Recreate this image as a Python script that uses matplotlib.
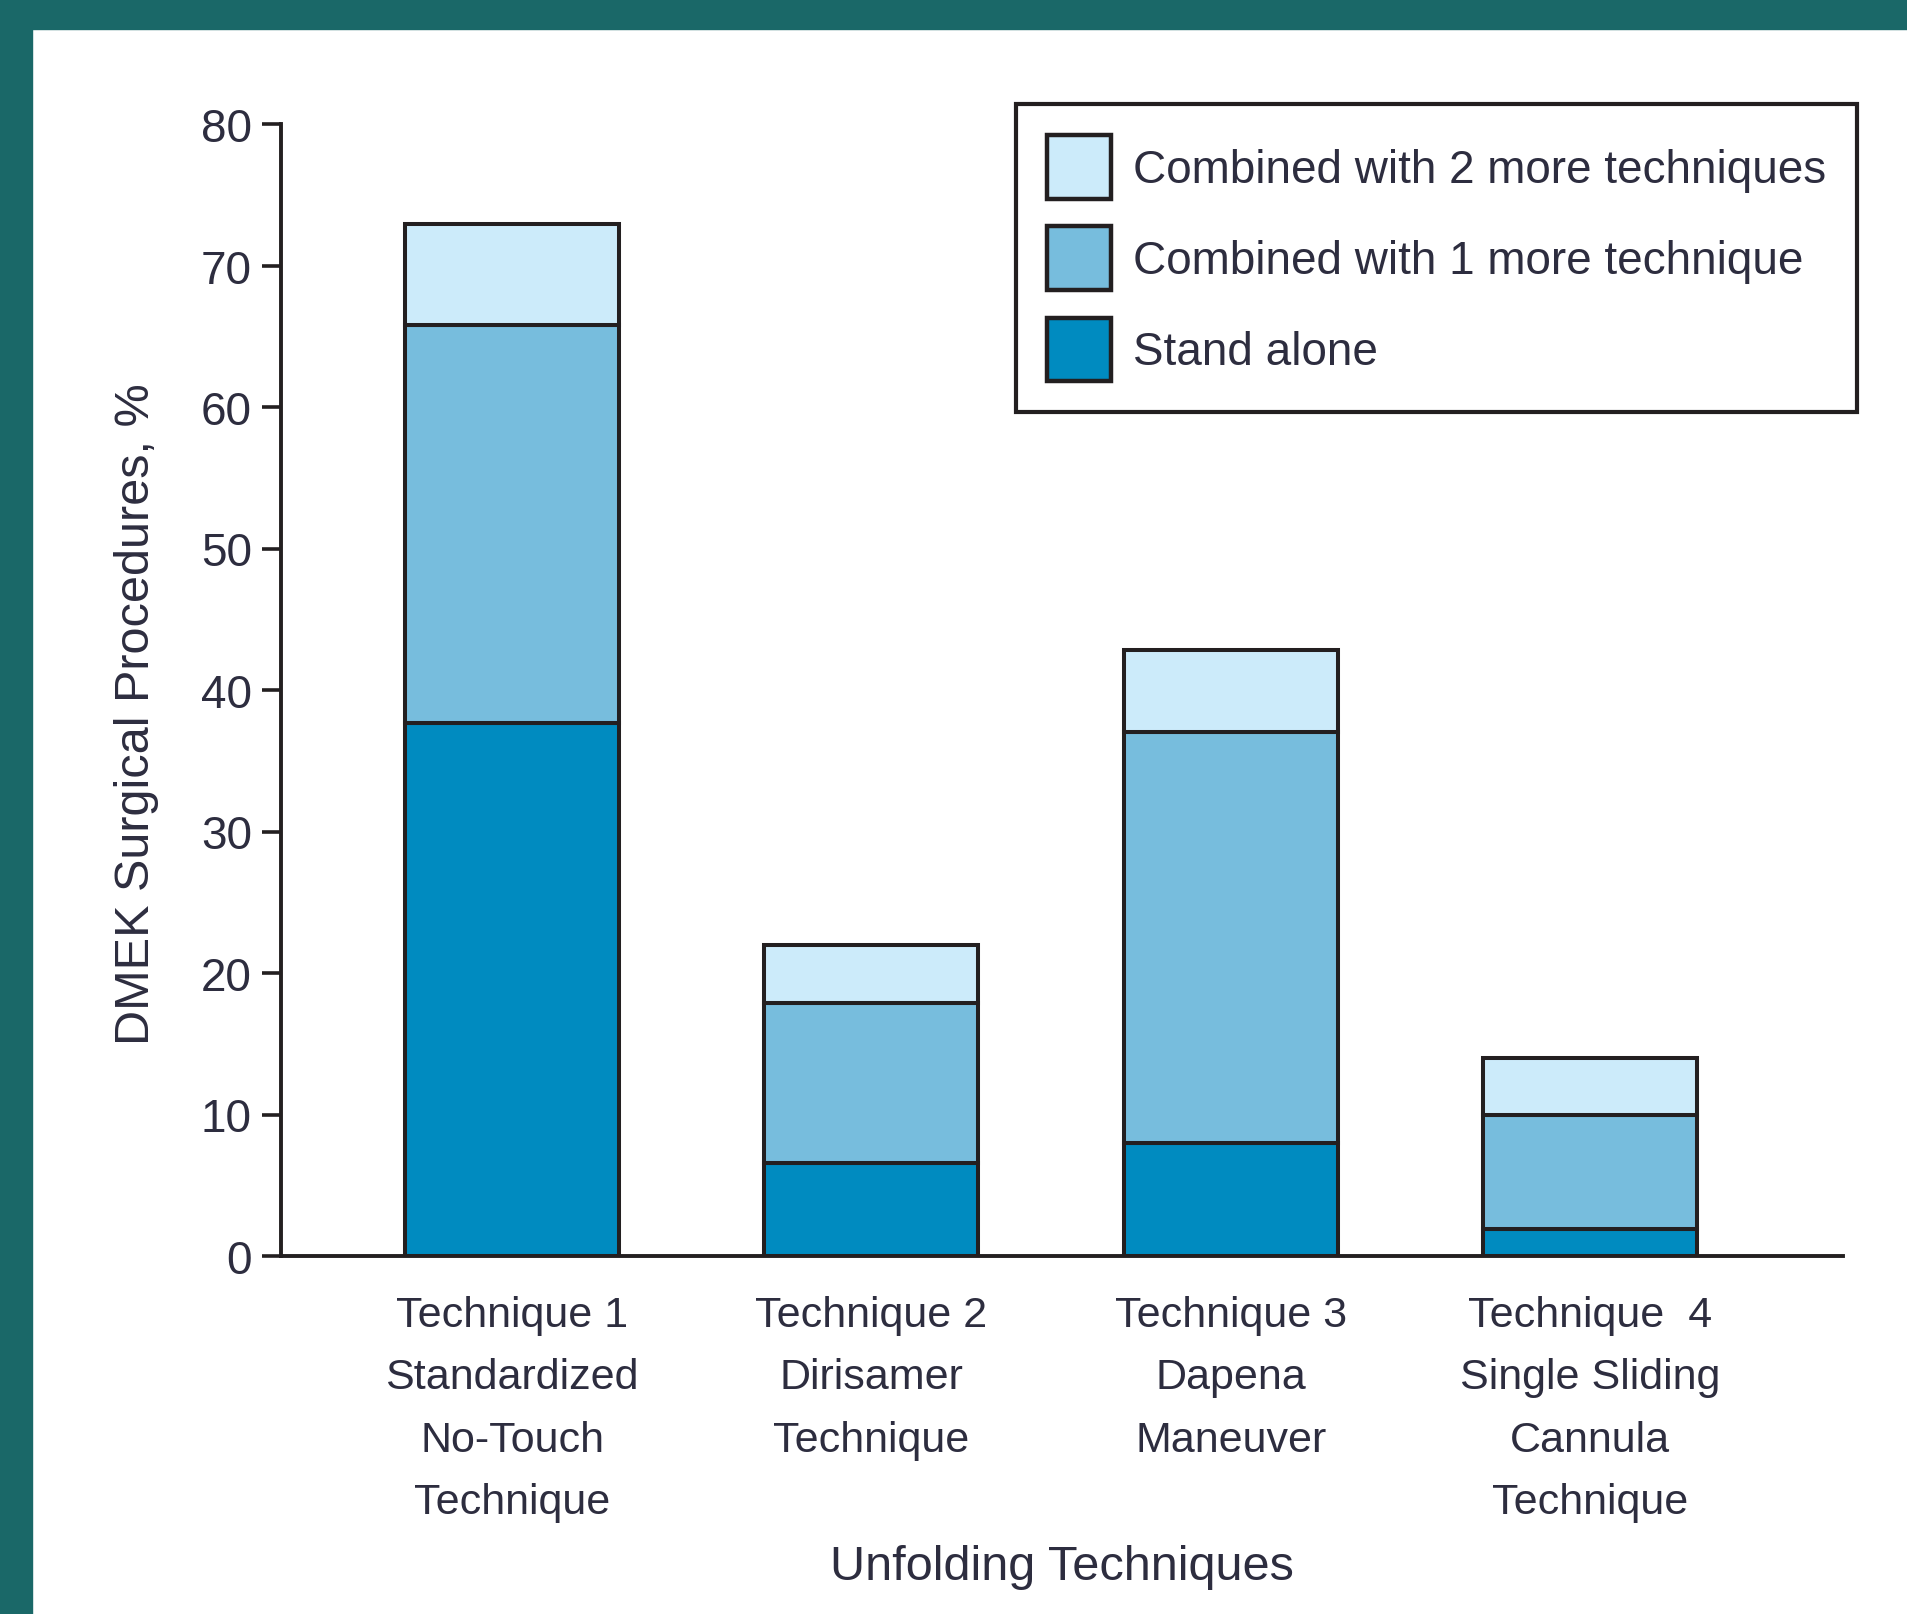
import matplotlib
matplotlib.use("Agg")
import matplotlib.pyplot as plt
from matplotlib.patches import Rectangle, Patch
import numpy as np

categories = ["Technique 1\nStandardized\nNo-Touch\nTechnique",
              "Technique 2\nDirisamer\nTechnique",
              "Technique 3\nDapena\nManeuver",
              "Technique  4\nSingle Sliding\nCannula\nTechnique"]
stand_alone = [37.7, 6.6, 8.0, 1.9]
combined_1 = [28.1, 11.3, 29.0, 8.1]
combined_2 = [7.1, 4.1, 5.8, 4.0]
yticks = [0, 10, 20, 30, 40, 50, 60, 70, 80]

C_STAND = "#008BC0"
C_ONE = "#77BDDD"
C_TWO = "#CCEBFA"
EDGE = "#231F20"
TXT = "#2d2d3f"
TEAL = "#1A6868"

plt.rcParams["font.family"] = ["Liberation Sans", "DejaVu Sans"]

W, H = 1908, 1615
fig = plt.figure(figsize=(W / 100, H / 100), dpi=100, facecolor="white")
# teal frame
fig.patches.append(Rectangle((0, 1 - 30 / H), 1, 30 / H, transform=fig.transFigure,
                             color=TEAL, zorder=0))
fig.patches.append(Rectangle((0, 0), 32 / W, 1, transform=fig.transFigure,
                             color=TEAL, zorder=0))

left, right, top, bottom = 281, 1843, 125, 1257
ax = fig.add_axes([left / W, 1 - bottom / H, (right - left) / W, (bottom - top) / H])

x = np.arange(len(categories))
bw = 0.596
lw = 2.9
s = np.array(stand_alone)
o = np.array(combined_1)
t = np.array(combined_2)
ax.bar(x, s, bw, color=C_STAND, edgecolor=EDGE, linewidth=lw, zorder=3)
ax.bar(x, o, bw, bottom=s, color=C_ONE, edgecolor=EDGE, linewidth=lw, zorder=3)
ax.bar(x, t, bw, bottom=s + o, color=C_TWO, edgecolor=EDGE, linewidth=lw, zorder=3)

ax.set_xlim(-0.643, 3.704)
ax.set_ylim(0, 80)
ax.set_yticks(yticks)
ax.set_xticks(x)
ax.set_xticklabels(categories, fontsize=31, color=TXT, linespacing=1.72, va="top")
ax.tick_params(axis="x", length=0, pad=28)
ax.tick_params(axis="y", length=14, width=2.6, color=EDGE, pad=7, labelsize=33,
               labelcolor=TXT)
for sp in ["top", "right"]:
    ax.spines[sp].set_visible(False)
for sp in ["left", "bottom"]:
    ax.spines[sp].set_linewidth(2.8)
    ax.spines[sp].set_color(EDGE)

fig.text(873 * 1.2168 / W, 1 - 1288 * 1.2168 / H, "Unfolding Techniques", fontsize=35,
         color=TXT, ha="center", va="center")
fig.text(112 * 1.2168 / W, 1 - 587 * 1.2168 / H, "DMEK Surgical Procedures, %",
         fontsize=35, color=TXT, ha="center", va="center", rotation=90)

handles = [Patch(facecolor=C_TWO, edgecolor=EDGE, linewidth=3.2),
           Patch(facecolor=C_ONE, edgecolor=EDGE, linewidth=3.2),
           Patch(facecolor=C_STAND, edgecolor=EDGE, linewidth=3.2)]
labels = ["Combined with 2 more techniques", "Combined with 1 more technique", "Stand alone"]
leg = fig.legend(handles, labels, loc="upper left",
                 bbox_to_anchor=(1016 / W, 1 - 105 / H), fontsize=33,
                 handlelength=1.4, handleheight=1.75, handletextpad=0.47,
                 labelspacing=0.61, borderpad=0.68, borderaxespad=0, fancybox=False,
                 frameon=True, framealpha=1)
leg.get_frame().set_edgecolor(EDGE)
leg.get_frame().set_linewidth(3)
for tx in leg.get_texts():
    tx.set_color(TXT)

fig.savefig("out.png", dpi=100, facecolor="white")
